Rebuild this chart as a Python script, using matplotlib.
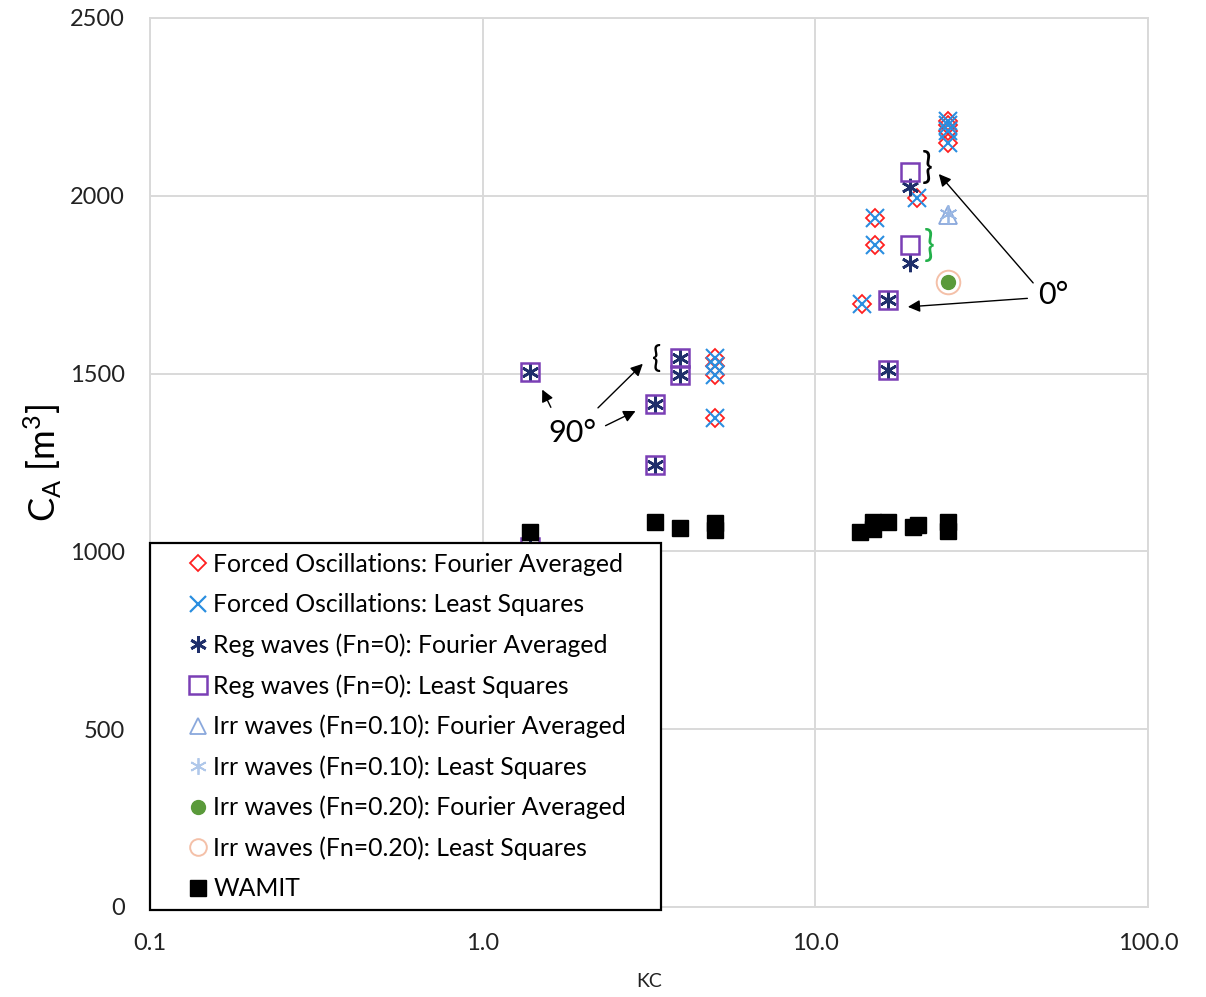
import matplotlib
matplotlib.use("Agg")
import matplotlib.pyplot as plt
from matplotlib.lines import Line2D
from matplotlib.patches import Rectangle

plt.rcParams['font.family'] = ['Lato', 'DejaVu Sans']

# ---- data ----
fo_kc = [5.0, 5.0, 5.0, 5.0, 13.8, 15.1, 15.1, 20.2, 25.0, 25.0, 25.0, 25.0]
fo_fa = [1545, 1520, 1495, 1375, 1697, 1862, 1937, 1994, 2210, 2200, 2182, 2147]
fo_ls = [1545, 1520, 1495, 1375, 1697, 1862, 1937, 1994, 2210, 2200, 2182, 2147]

reg_kc = [1.39, 1.39, 3.30, 3.30, 3.92, 3.92, 16.5, 16.5, 19.2, 19.2]
reg_fa = [1505, 1012, 1414, 1243, 1544, 1496, 1707, 1510, 2025, 1811]
reg_ls = [1505, 1012, 1414, 1243, 1544, 1496, 1707, 1510, 2067, 1862]

irr10_kc = [25.0]
irr10_fa = [1946]
irr10_ls = [1950]

irr20_kc = [25.0]
irr20_fa = [1757]
irr20_ls = [1757]

wamit_kc = [1.39, 3.30, 3.92, 5.0, 5.0, 13.6, 14.9, 14.9, 16.5, 19.7, 20.3, 25.0, 25.0]
wamit_ca = [1054, 1083, 1066, 1080, 1060, 1054, 1064, 1082, 1083, 1069, 1075, 1083, 1058]

labels = ["Forced Oscillations: Fourier Averaged",
          "Forced Oscillations: Least Squares",
          "Reg waves (Fn=0): Fourier Averaged",
          "Reg waves (Fn=0): Least Squares",
          "Irr waves (Fn=0.10): Fourier Averaged",
          "Irr waves (Fn=0.10): Least Squares",
          "Irr waves (Fn=0.20): Fourier Averaged",
          "Irr waves (Fn=0.20): Least Squares",
          "WAMIT"]

fig = plt.figure(figsize=(12.06, 9.97), dpi=100)
ax = fig.add_axes([0.1244, 0.0903, 0.8276, 0.8917])
ax.set_xscale('log')
ax.set_xlim(0.1, 100)
ax.set_ylim(0, 2500)
ax.set_xticks([0.1, 1, 10, 100])
ax.set_xticklabels(['0.1', '1.0', '10.0', '100.0'])
ax.set_yticks([0, 500, 1000, 1500, 2000, 2500])
ax.minorticks_off()
ax.tick_params(axis='both', length=0, labelsize=17, colors='#222222')
ax.tick_params(axis='y', pad=18)
ax.tick_params(axis='x', pad=18.5)
ax.grid(True, color='#d9d9d9', linewidth=1.4)
ax.set_axisbelow(True)
for s in ax.spines.values():
    s.set_color('#d9d9d9')
    s.set_linewidth(1.4)
ax.set_xlabel('KC', fontsize=14, labelpad=14, color='#222222')
ax.set_ylabel(r'C$_\mathregular{A}$ [m$^\mathregular{3}$]', fontsize=26, labelpad=4)

ax.plot(fo_kc, fo_fa, ls='none', marker='D', ms=9, mfc='none', mec='#ff2020', mew=1.3, zorder=3)
ax.plot(fo_kc, fo_ls, ls='none', marker='x', ms=12.5, mec='#2a8ee0', mew=1.5, zorder=3)
ax.plot(reg_kc, reg_fa, ls='none', marker=(6, 2, 0), ms=12.5, mec='#1f2f6b', mew=1.9, zorder=4)
ax.plot(reg_kc, reg_ls, ls='none', marker='s', ms=13.5, mfc='none', mec='#7a3fb5', mew=1.8, zorder=4)
ax.plot(irr10_kc, irr10_fa, ls='none', marker='^', ms=13, mfc='none', mec='#8aa8dc', mew=1.3, zorder=3)
ax.plot(irr10_kc, irr10_ls, ls='none', marker=(6, 2, 0), ms=13, mec='#9ab8e4', mew=1.3, zorder=3)
ax.plot(irr20_kc, irr20_ls, ls='none', marker='o', ms=17, mfc='none', mec='#f4c0a8', mew=1.4, zorder=3)
ax.plot(irr20_kc, irr20_fa, ls='none', marker='o', ms=10, mfc='#5a9a3a', mec='#5a9a3a', zorder=4)
ax.plot(wamit_kc, wamit_ca, ls='none', marker='s', ms=11, mfc='black', mec='black', zorder=4)

# legend box
box = Rectangle((0.0, -0.0034), 0.512, 0.4128, transform=ax.transAxes, facecolor='white',
                edgecolor='black', linewidth=1.6, zorder=9, clip_on=False)
ax.add_patch(box)

lh = [Line2D([], [], ls='none', marker='D', ms=8, mfc='none', mec='#ff2020', mew=1.3),
      Line2D([], [], ls='none', marker='x', ms=11, mec='#2a8ee0', mew=1.6),
      Line2D([], [], ls='none', marker=(6, 2, 0), ms=12, mec='#1f2f6b', mew=2.0),
      Line2D([], [], ls='none', marker='s', ms=13, mfc='none', mec='#7a3fb5', mew=1.8),
      Line2D([], [], ls='none', marker='^', ms=12, mfc='none', mec='#8aa8dc', mew=1.3),
      Line2D([], [], ls='none', marker=(6, 2, 0), ms=12, mec='#b0c8ea', mew=1.3),
      Line2D([], [], ls='none', marker='o', ms=10, mfc='#5a9a3a', mec='#5a9a3a'),
      Line2D([], [], ls='none', marker='o', ms=12, mfc='none', mec='#f4c0a8', mew=1.4),
      Line2D([], [], ls='none', marker='s', ms=11, mfc='black', mec='black')]
leg = ax.legend(lh, labels, loc='upper left', bbox_to_anchor=(0.038, 0.398), fontsize=17.8,
                frameon=False, handlelength=0.8, handletextpad=0.22, labelspacing=0.69,
                borderpad=0, borderaxespad=0)
leg.set_zorder(10)

# annotations
arrow = dict(arrowstyle='-|>', color='black', lw=1.0, mutation_scale=18)
ax.text(1.855, 1333, '90°', fontsize=22, ha='center', va='center')
ax.annotate('', xy=(1.497, 1462), xytext=(1.616, 1398), arrowprops=arrow)
ax.annotate('', xy=(3.07, 1533), xytext=(2.19, 1398), arrowprops=arrow)
ax.annotate('', xy=(2.93, 1398), xytext=(2.30, 1350), arrowprops=arrow)
ax.text(3.34, 1542, '{', fontsize=22, ha='center', va='center')

ax.text(51.8, 1721, '0°', fontsize=22, ha='center', va='center')
ax.annotate('', xy=(23.2, 2067), xytext=(45.7, 1749), arrowprops=arrow)
ax.annotate('', xy=(18.6, 1687), xytext=(44.2, 1712), arrowprops=arrow)
ax.text(21.7, 2077, '}', fontsize=26, ha='center', va='center')
ax.text(21.95, 1858, '}', fontsize=26, ha='center', va='center', color='#22b04a')

fig.savefig('out.png', dpi=100)
